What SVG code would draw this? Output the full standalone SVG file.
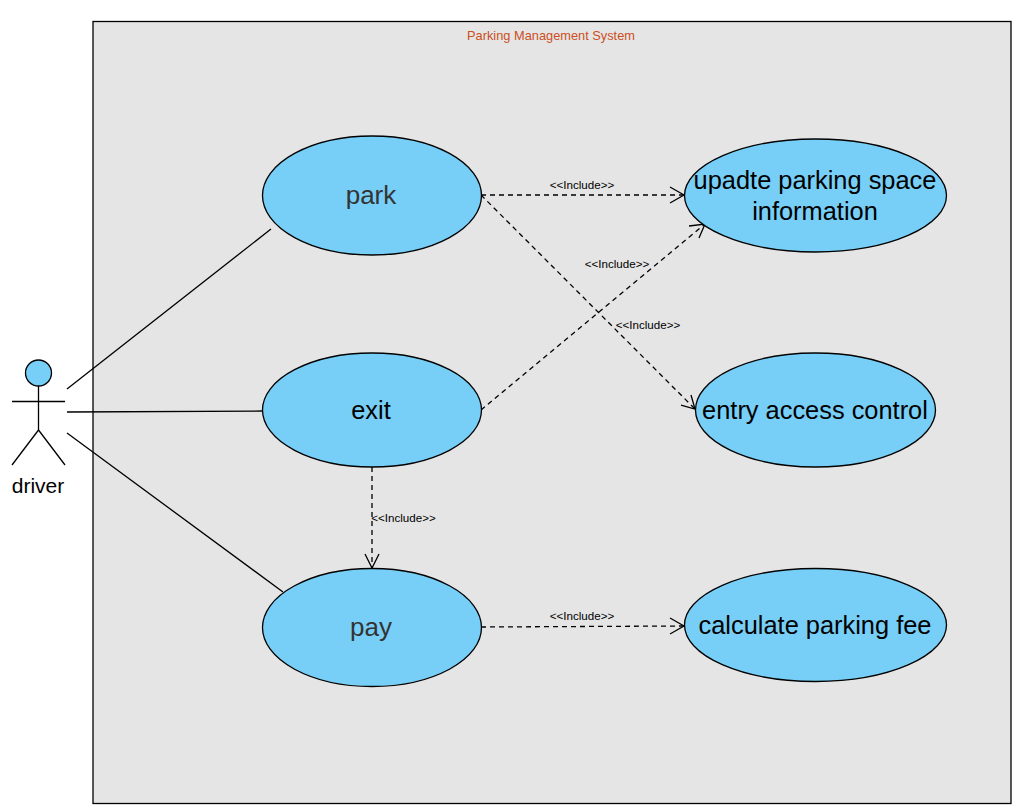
<svg xmlns="http://www.w3.org/2000/svg" width="1016" height="809" viewBox="0 0 1016 809">
<style>
text{font-family:"Liberation Sans",Arial,sans-serif;text-anchor:middle}
.u{fill:#77cff7;stroke:#000;stroke-width:1.3}
.l{font-size:25.400px;fill:#000}
.g{font-size:26px;fill:#333}
.i{font-size:11.600px;fill:#000}
.a{fill:none;stroke:#000;stroke-width:1.3}
.d{fill:none;stroke:#000;stroke-width:1.3;stroke-dasharray:5 4}
.h{fill:none;stroke:#000;stroke-width:1.3}
</style>
<rect width="1016" height="809" fill="#fff"/>
<g id="system">
<rect x="93" y="21.500" width="918" height="782" fill="#e5e5e5" stroke="#000" stroke-width="1.300"/>
<text x="551" y="39.500" font-size="12.800" fill="#cc4f1e">Parking Management System</text>
</g>
<g id="connectors">
<path class="a" d="M67 389L271 229M67 412L263 411M67 433L283 592"/>
<path class="d" d="M481 195H684M481 195L696 410M481 410L705 224M372 467V568M481 627L684 626"/>
<path class="h" d="M670 187L684 195L670 203M670 618L684 626L670 634M365 554L372 568L379 554M681 405L695 409L691 395M689 226L705 224L699 238"/>
<text class="i" x="582" y="189">&lt;&lt;Include&gt;&gt;</text>
<text class="i" x="617" y="268">&lt;&lt;Include&gt;&gt;</text>
<text class="i" x="648" y="329">&lt;&lt;Include&gt;&gt;</text>
<text class="i" x="403.500" y="521.500">&lt;&lt;Include&gt;&gt;</text>
<text class="i" x="582" y="619.500">&lt;&lt;Include&gt;&gt;</text>
</g>
<g id="driver">
<circle class="u" cx="38.500" cy="373" r="13"/>
<path class="a" d="M38.500 386V430M12 401.500H65M38.500 430L12 465M38.500 430L65 465"/>
<text x="38" y="493" style="font-size:21px" fill="#000">driver</text>
</g>
<g id="park"><ellipse class="u" cx="372" cy="195.500" rx="109.500" ry="59.500"/><text class="g" x="371" y="204">park</text></g>
<g id="exit"><ellipse class="u" cx="372" cy="410" rx="109.500" ry="57"/><text class="l" x="371" y="419">exit</text></g>
<g id="pay"><ellipse class="u" cx="372" cy="627.500" rx="109.500" ry="59"/><text class="g" x="371" y="636">pay</text></g>
<g id="update"><ellipse class="u" cx="815.500" cy="195.500" rx="131" ry="56.500"/><text class="l" x="815" y="188.500">upadte parking space</text><text class="l" x="815" y="219.500">information</text></g>
<g id="entry"><ellipse class="u" cx="815.500" cy="410" rx="120" ry="57"/><text class="l" x="815" y="419">entry access control</text></g>
<g id="fee"><ellipse class="u" cx="815.500" cy="625" rx="131" ry="56.500"/><text class="l" x="815" y="633.500">calculate parking fee</text></g>
</svg>
